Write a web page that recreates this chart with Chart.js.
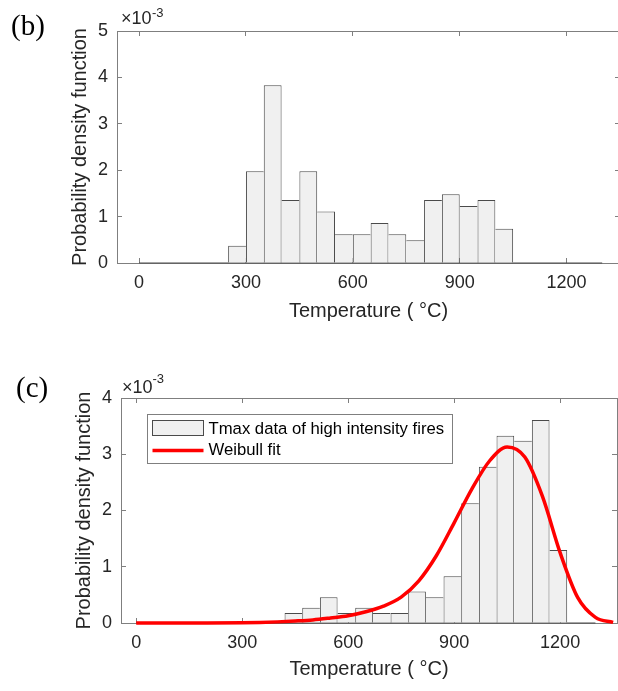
<!DOCTYPE html>
<html lang="en">
<head>
  <meta charset="UTF-8">
  <title>Tmax histograms</title>
  <style>
    html, body { margin: 0; padding: 0; background: #fff; overflow: hidden; }
    #wrap { position: relative; width: 625px; height: 691px; }
    canvas { position: absolute; left: 0; }
    .lbl { position: absolute; white-space: nowrap; line-height: 1; }
    .panel { font-family: 'Liberation Serif', 'Times New Roman', serif; font-size: 29px; color: #000; }
    .expo { font-family: 'Liberation Sans', Arial, sans-serif; font-size: 18px; color: #262626; }
    .expo-sup { font-family: 'Liberation Sans', Arial, sans-serif; font-size: 13px; color: #262626; }
  </style>
</head>
<body>
  <div id="wrap">
    <canvas id="chartB" width="625" height="330" style="top:0"></canvas>
    <canvas id="chartC" width="618" height="351" style="top:340px"></canvas>
    <div class="lbl panel" style="left:11px;top:10.7px">(b)</div>
    <div class="lbl panel" style="left:16px;top:372.5px">(c)</div>
    <div class="lbl expo" style="left:121px;top:8.8px">×10</div>
    <div class="lbl expo-sup" style="left:152px;top:5.5px">-3</div>
    <div class="lbl expo" style="left:122px;top:378px">×10</div>
    <div class="lbl expo-sup" style="left:152.5px;top:372px">-3</div>
  </div>
  <script src="https://cdn.jsdelivr.net/npm/chart.js@4.4.1/dist/chart.umd.min.js"></script>
  <script>
    // shared axis values
    const xTicks = [0, 300, 600, 900, 1200];
    const binWidth = 50;
    const histSpan = [0, 1300];   // range covered by the histogram bins (empty bins drawn flat)

    // panel (b): bin start temperatures and density (x10^-3)
    const binStartsB = [250, 300, 350, 400, 450, 500, 550, 600, 650, 700, 750, 800, 850, 900, 950, 1000];
    const densityB = [0.37, 1.98, 3.83, 1.36, 1.98, 1.11, 0.62, 0.62, 0.86, 0.62, 0.49, 1.36, 1.48, 1.23, 1.36, 0.74];
    const yTicksB = [0, 1, 2, 3, 4, 5];

    // panel (c): high intensity fires + weibull fit (x10^-3)
    const binStartsC = [420, 470, 520, 570, 620, 670, 720, 770, 820, 870, 920, 970, 1020, 1070, 1120, 1170];
    const densityC = [0.18, 0.27, 0.46, 0.18, 0.27, 0.18, 0.18, 0.56, 0.46, 0.83, 2.13, 2.78, 3.33, 3.24, 3.61, 1.30];
    const fitTemp = [0, 100, 200, 300, 350, 400, 450, 500, 550, 600, 650, 700, 750, 800, 850, 900, 950, 1000, 1050, 1100, 1150, 1200, 1250, 1300, 1350];
    const fitDensity = [0, 0, 0, 0.005, 0.01, 0.02, 0.035, 0.055, 0.09, 0.13, 0.2, 0.3, 0.46, 0.75, 1.2, 1.78, 2.38, 2.88, 3.13, 2.95, 2.25, 1.25, 0.45, 0.1, 0.01];
    const yTicksC = [0, 1, 2, 3, 4];
    const legendLabels = ['Tmax data of high intensity fires', 'Weibull fit'];

    const axisColor = '#7f7f7f';
    const barFill = '#f0f0f0';
    const barEdge = '#4a4a4a';

    Chart.defaults.font.family = "'Liberation Sans', Arial, sans-serif";
    Chart.defaults.color = '#262626';

    // one edge line between neighbouring bars: the taller bar owns it
    function edgeWidths(vals) {
      return function (ctx) {
        const i = ctx.dataIndex, v = vals[i];
        const prev = i > 0 ? vals[i - 1] : -1;
        const next = i < vals.length - 1 ? vals[i + 1] : -1;
        return { top: 1, bottom: 0, left: prev <= v ? 1 : 0, right: next < v ? 1 : 0 };
      };
    }

    function histDataset(starts, vals, label) {
      return {
        type: 'bar',
        label: label,
        data: starts.map((s, i) => ({ x: s + binWidth / 2, y: vals[i] })),
        backgroundColor: barFill,
        borderColor: barEdge,
        borderWidth: edgeWidths(vals),
        barPercentage: 1,
        categoryPercentage: 1,
        inflateAmount: 0,
        order: 1
      };
    }

    function baselineDataset() {
      return {
        type: 'line',
        data: histSpan.map(t => ({ x: t, y: 0 })),
        borderColor: barEdge,
        borderWidth: 1,
        pointRadius: 0,
        clip: false,
        order: 2
      };
    }

    function frameScales(o) {
      const fixTicks = vals => s => { s.ticks = vals.map(v => ({ value: v })); };
      const grid = { drawOnChartArea: false, drawTicks: true, tickLength: -5, tickColor: axisColor, offset: false };
      const border = { color: axisColor, width: 1 };
      return {
        x: {
          type: 'linear', position: 'bottom', min: o.xMin, max: o.xMax, offset: false,
          grid: grid, border: border,
          afterBuildTicks: fixTicks(xTicks),
          ticks: { padding: 14, maxRotation: 0, autoSkip: false, font: { size: 18 }, callback: v => String(v) },
          title: { display: true, text: 'Temperature ( °C)', color: '#262626', font: { size: 20 }, padding: { top: 0, bottom: o.xTitlePad } },
          afterFit: s => { s.height = o.xHeight; }
        },
        x2: {
          type: 'linear', position: 'top', min: o.xMin, max: o.xMax, offset: false,
          grid: grid, border: border,
          afterBuildTicks: fixTicks(xTicks),
          ticks: { display: false },
          afterFit: s => { s.height = 0; }
        },
        y: {
          type: 'linear', position: 'left', min: 0, max: o.yMax,
          grid: grid, border: border,
          afterBuildTicks: fixTicks(o.yTicks),
          ticks: { padding: 14, font: { size: 18 }, callback: v => String(v) },
          title: { display: true, text: 'Probability density function', color: '#262626', font: { size: 20 }, padding: { top: o.yTitlePad, bottom: 0 } },
          afterFit: s => { s.width = o.yWidth; }
        },
        y2: {
          type: 'linear', position: 'right', min: 0, max: o.yMax,
          grid: grid, border: border,
          afterBuildTicks: fixTicks(o.yTicks),
          ticks: { display: false },
          afterFit: s => { s.width = 0; }
        }
      };
    }

    const legendBox = {
      id: 'legendBox',
      afterDatasetsDraw(chart) {
        const ctx = chart.ctx, ca = chart.chartArea;
        const x0 = Math.round(ca.left + 26) + 0.5, y0 = Math.round(ca.top + 16) + 0.5;
        const w = 305, h = 49;
        ctx.save();
        ctx.fillStyle = '#fff';
        ctx.fillRect(x0, y0, w, h);
        ctx.strokeStyle = axisColor;
        ctx.lineWidth = 1;
        ctx.strokeRect(x0, y0, w, h);
        // histogram patch
        ctx.fillStyle = barFill;
        ctx.fillRect(x0 + 5, y0 + 6, 51, 15);
        ctx.strokeStyle = barEdge;
        ctx.strokeRect(x0 + 5, y0 + 6, 51, 15);
        // fit line
        ctx.strokeStyle = '#ff0000';
        ctx.lineWidth = 3.5;
        ctx.beginPath();
        ctx.moveTo(x0 + 5, y0 + 36);
        ctx.lineTo(x0 + 56, y0 + 36);
        ctx.stroke();
        ctx.fillStyle = '#000';
        ctx.font = "16.7px 'Liberation Sans', Arial, sans-serif";
        ctx.textBaseline = 'middle';
        ctx.textAlign = 'left';
        ctx.fillText(legendLabels[0], x0 + 61, y0 + 14.5);
        ctx.fillText(legendLabels[1], x0 + 61, y0 + 35.5);
        ctx.restore();
      }
    };

    const common = {
      responsive: false,
      animation: false,
      devicePixelRatio: 1,
      plugins: { legend: { display: false }, tooltip: { enabled: false } }
    };

    new Chart(document.getElementById('chartB'), {
      type: 'bar',
      data: { datasets: [histDataset(binStartsB, densityB, 'Tmax data'), baselineDataset()] },
      options: Object.assign({}, common, {
        layout: { padding: { top: 31, right: 5, bottom: 0, left: 0 } },
        scales: frameScales({ xMin: -62, xMax: 1350, yMax: 5, yTicks: yTicksB, yWidth: 117, xHeight: 67, xTitlePad: 7, yTitlePad: 68 })
      })
    });

    new Chart(document.getElementById('chartC'), {
      type: 'bar',
      data: {
        datasets: [
          histDataset(binStartsC, densityC, legendLabels[0]),
          baselineDataset(),
          {
            type: 'line',
            label: legendLabels[1],
            data: fitTemp.map((t, i) => ({ x: t, y: fitDensity[i] })),
            borderColor: '#ff0000',
            borderWidth: 3.5,
            pointRadius: 0,
            cubicInterpolationMode: 'monotone',
            fill: false,
            clip: false,
            order: 0
          }
        ]
      },
      options: Object.assign({}, common, {
        layout: { padding: { top: 58, right: 1, bottom: 0, left: 0 } },
        scales: frameScales({ xMin: -43, xMax: 1361, yMax: 4, yTicks: yTicksC, yWidth: 121, xHeight: 68, xTitlePad: 10, yTitlePad: 72 })
      }),
      plugins: [legendBox]
    });
  </script>
</body>
</html>
